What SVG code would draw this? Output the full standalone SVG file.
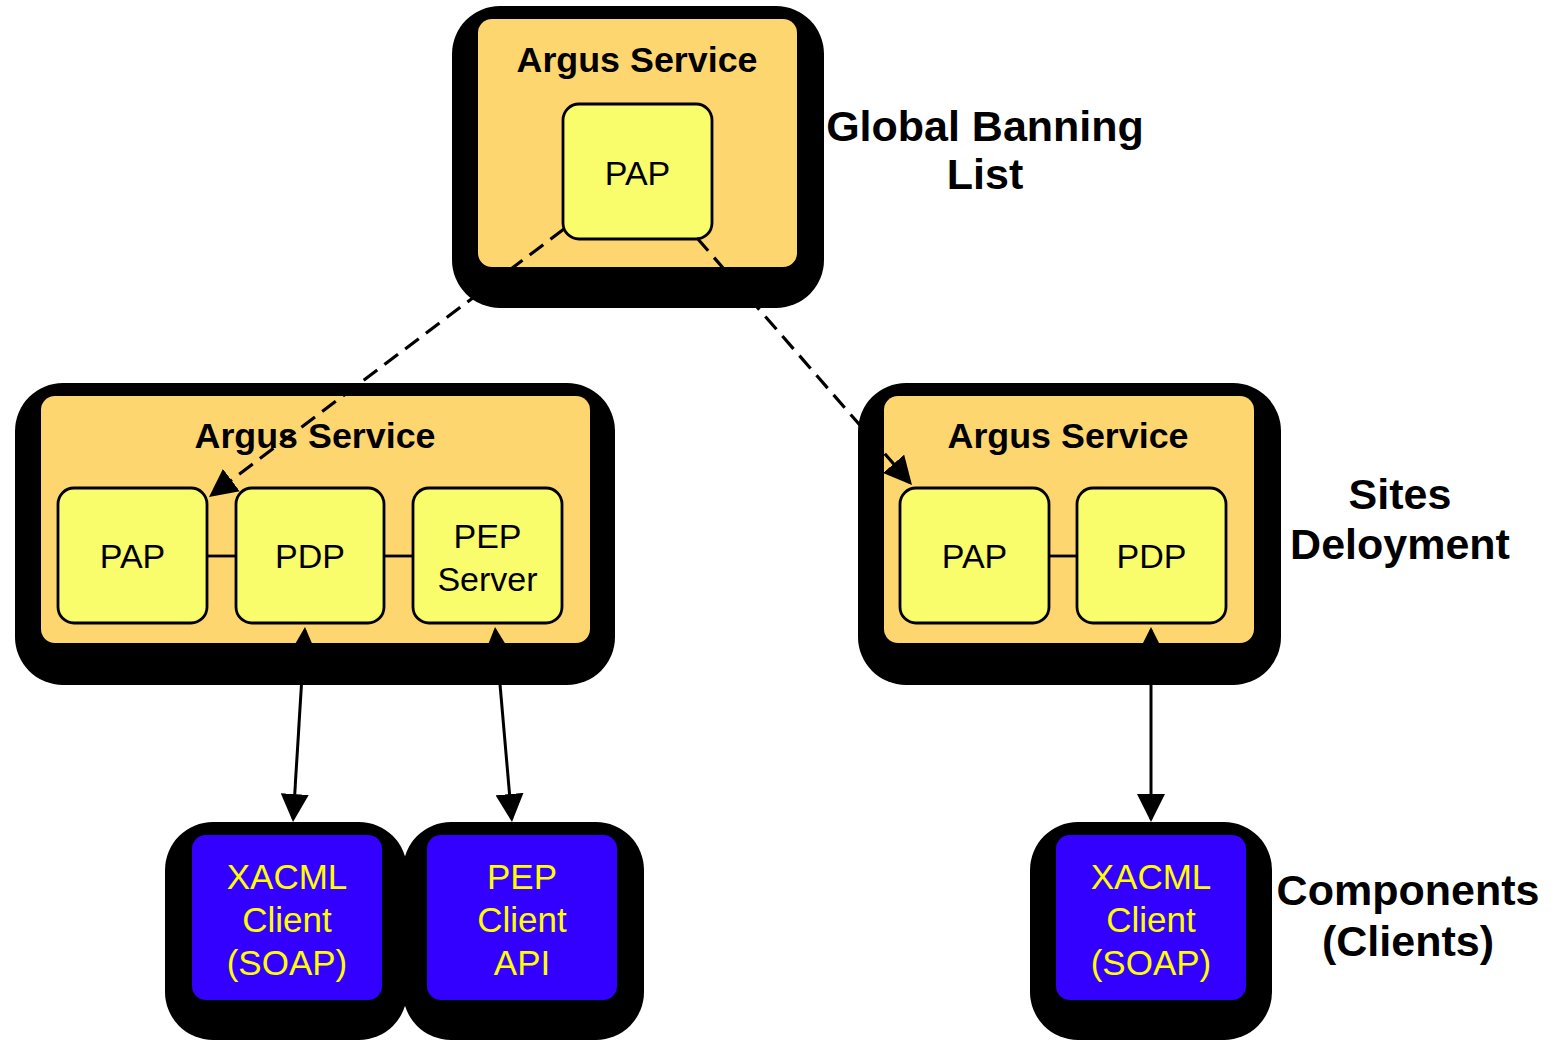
<svg xmlns="http://www.w3.org/2000/svg" width="1554" height="1040" viewBox="0 0 1554 1040">
<style>
.shadow{fill:#000}
.svc{fill:#FED670}
.comp{fill:#F9FD6C;stroke:#000;stroke-width:2.8}
.client{fill:#3300FF}
.title{font-family:"Liberation Sans",Arial,sans-serif;font-weight:bold;font-size:35px;fill:#000;text-anchor:middle}
.lbl{font-family:"Liberation Sans",Arial,sans-serif;font-weight:bold;font-size:43px;fill:#000;text-anchor:middle}
.ctext{font-family:"Liberation Sans",Arial,sans-serif;font-size:34px;fill:#000;text-anchor:middle}
.ytext{font-family:"Liberation Sans",Arial,sans-serif;font-size:35px;fill:#FFFF00;text-anchor:middle}
.link{stroke:#000;stroke-width:2.8;fill:none}
.arrow{stroke:#000;stroke-width:3;fill:none;marker-end:url(#ah)}
.both{marker-start:url(#ah)}
.dash{stroke-dasharray:17 9;stroke-width:3.2}
</style>
<defs>
<marker id="ah" viewBox="0 0 28 28" refX="25" refY="14" markerWidth="28" markerHeight="28" markerUnits="userSpaceOnUse" orient="auto-start-reverse">
<path d="M0,0 L28,14 L0,28 Z" fill="#000"/>
</marker>
</defs>

<g id="top-service">
<rect class="shadow" x="452" y="6" width="372" height="302" rx="48"/>
<rect class="svc" x="478" y="19" width="319" height="248" rx="14"/>
<text class="title" x="637" y="72" textLength="241" lengthAdjust="spacingAndGlyphs">Argus Service</text>
</g>
<g id="top-pap">
<rect class="comp" x="563" y="104" width="149" height="135" rx="16"/>
<text class="ctext" x="637.5" y="185">PAP</text>
</g>

<g id="left-service">
<rect class="shadow" x="15" y="383" width="600" height="302" rx="48"/>
<rect class="svc" x="41" y="396" width="549" height="247" rx="14"/>
<text class="title" x="315" y="448" textLength="241" lengthAdjust="spacingAndGlyphs">Argus Service</text>
</g>
<g id="left-pap">
<rect class="comp" x="58" y="488" width="149" height="135" rx="16"/>
<text class="ctext" x="132.5" y="568">PAP</text>
</g>
<g id="left-pdp">
<rect class="comp" x="236" y="488" width="148" height="135" rx="16"/>
<text class="ctext" x="310" y="568">PDP</text>
</g>
<g id="left-pep-server">
<rect class="comp" x="413" y="488" width="149" height="135" rx="16"/>
<text class="ctext" x="487.5" y="548">PEP</text>
<text class="ctext" x="487.5" y="591">Server</text>
</g>

<g id="right-service">
<rect class="shadow" x="858" y="383" width="423" height="302" rx="48"/>
<rect class="svc" x="884" y="396" width="370" height="247" rx="14"/>
<text class="title" x="1068" y="448" textLength="241" lengthAdjust="spacingAndGlyphs">Argus Service</text>
</g>
<g id="right-pap">
<rect class="comp" x="900" y="488" width="149" height="135" rx="16"/>
<text class="ctext" x="974.5" y="568">PAP</text>
</g>
<g id="right-pdp">
<rect class="comp" x="1077" y="488" width="149" height="135" rx="16"/>
<text class="ctext" x="1151.5" y="568">PDP</text>
</g>

<g id="client-xacml-left">
<rect class="shadow" x="165" y="822" width="242" height="218" rx="48"/>
<rect class="client" x="192" y="835" width="190" height="165" rx="14"/>
<text class="ytext" x="287" y="889">XACML</text>
<text class="ytext" x="287" y="932">Client</text>
<text class="ytext" x="287" y="975">(SOAP)</text>
</g>
<g id="client-pep">
<rect class="shadow" x="403" y="822" width="241" height="218" rx="48"/>
<rect class="client" x="427" y="835" width="190" height="165" rx="14"/>
<text class="ytext" x="522" y="889">PEP</text>
<text class="ytext" x="522" y="932">Client</text>
<text class="ytext" x="522" y="975">API</text>
</g>
<g id="client-xacml-right">
<rect class="shadow" x="1030" y="822" width="242" height="218" rx="48"/>
<rect class="client" x="1056" y="835" width="190" height="165" rx="14"/>
<text class="ytext" x="1151" y="889">XACML</text>
<text class="ytext" x="1151" y="932">Client</text>
<text class="ytext" x="1151" y="975">(SOAP)</text>
</g>

<g id="labels">
<text class="lbl" x="985" y="141">Global Banning</text>
<text class="lbl" x="985" y="189">List</text>
<text class="lbl" x="1400" y="509">Sites</text>
<text class="lbl" x="1400" y="559">Deloyment</text>
<text class="lbl" x="1408" y="905">Components</text>
<text class="lbl" x="1408" y="956">(Clients)</text>
</g>

<g id="connectors">
<line class="link" x1="207" y1="556" x2="236" y2="556"/>
<line class="link" x1="384" y1="556" x2="413" y2="556"/>
<line class="link" x1="1049" y1="556" x2="1077" y2="556"/>
<line class="arrow dash" x1="564" y1="229" x2="211.4" y2="495.2"/>
<line class="arrow dash" x1="697" y1="238" x2="910" y2="482.7"/>
<line class="arrow both" x1="304.8" y1="630" x2="293.2" y2="819"/>
<line class="arrow both" x1="495.3" y1="630" x2="511.7" y2="819"/>
<line class="arrow both" x1="1151" y1="630" x2="1151" y2="819"/>
</g>
</svg>
